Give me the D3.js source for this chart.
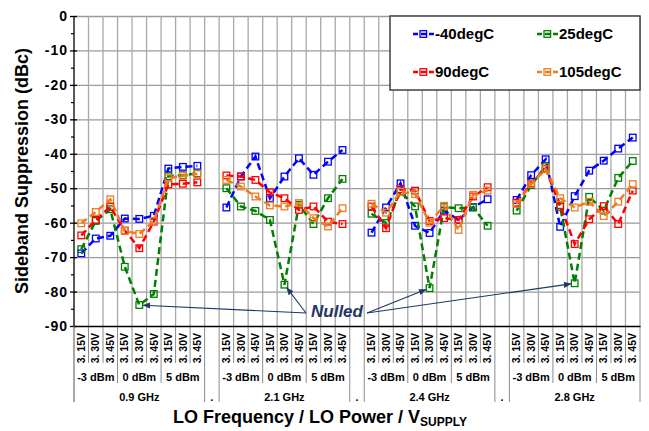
<!DOCTYPE html>
<html>
<head>
<meta charset="utf-8">
<script src="https://cdn.jsdelivr.net/npm/d3@7"></script>
<style>
  body { margin: 0; background: #fff; }
  svg { display: block; font-family: Arial, "Liberation Sans", sans-serif; font-weight: bold; }
</style>
</head>
<body>
<svg id="chart" width="649" height="431"></svg>
<script>
// category levels
var freqs = ["0.9 GHz", "2.1 GHz", "2.4 GHz", "2.8 GHz"];
var powers = ["-3 dBm", "0 dBm", "5 dBm"];
var volts = ["3. 15V", "3. 30V", "3. 45V"];
var gapLabel = ".";

// sideband suppression (dBc), 9 points per frequency
var minus40 = [-68.9, -64.6, -63.8, -58.8, -58.9, -58.0, -44.3, -43.8, -43.5,
               -55.6, -46.6, -40.8, -52.9, -46.6, -41.3, -46.1, -42.3, -38.9,
               -62.9, -55.6, -48.6, -60.9, -63.0, -56.5, -59.2, -55.5, -53.2,
               -53.4, -46.2, -41.6, -61.2, -52.3, -44.9, -42.0, -38.5, -35.3];
var plus25 = [-67.7, -59.5, -56.1, -72.8, -83.9, -80.7, -46.5, -46.2, -45.7,
              -50.0, -55.3, -56.6, -59.2, -78.0, -54.8, -60.4, -52.9, -47.3,
              -57.4, -60.1, -51.0, -55.3, -79.0, -55.5, -55.8, -55.6, -60.9,
              -56.5, -49.1, -43.6, -55.4, -77.6, -52.5, -56.5, -47.0, -42.1];
var plus90 = [-63.7, -59.2, -55.4, -62.3, -67.4, -59.7, -48.9, -48.7, -48.3,
              -46.3, -46.6, -47.6, -51.2, -52.9, -56.3, -55.3, -59.7, -60.4,
              -55.3, -61.6, -50.3, -50.7, -59.5, -58.7, -59.2, -52.4, -49.7,
              -54.2, -48.6, -44.3, -54.9, -66.2, -59.0, -55.2, -60.4, -50.7];
var plus105 = [-60.2, -56.9, -53.2, -62.4, -63.3, -59.5, -47.1, -46.4, -45.9,
               -47.6, -49.5, -52.4, -55.0, -55.3, -54.3, -58.7, -61.1, -55.8,
               -54.5, -57.1, -51.0, -51.7, -60.0, -55.1, -62.1, -51.9, -50.7,
               -54.6, -48.8, -44.5, -52.9, -55.6, -53.9, -58.1, -53.9, -48.8];

var seriesNames = ["-40degC", "25degC", "90degC", "105degC"];
var seriesColors = ["#0000ff", "#008000", "#ff0000", "#f07c20"];
var seriesValues = [minus40, plus25, plus90, plus105];

var yTicks = [0, -10, -20, -30, -40, -50, -60, -70, -80, -90];
var yMinor = [-5, -15, -25, -35, -45, -55, -65, -75, -85];

var W = 649, H = 431;
var margin = {top: 16, right: 9, bottom: 105, left: 74};
var plotR = W - margin.right, plotB = H - margin.bottom;

var svg = d3.select("#chart");

// build category list: 9 per frequency, a gap between frequencies
var cats = [];
freqs.forEach(function(f, fi) {
  powers.forEach(function(p, pi) {
    volts.forEach(function(v, vi) {
      cats.push({key: fi + "_" + pi + "_" + vi, f: fi, p: pi, v: v, gap: false});
    });
  });
  if (fi < freqs.length - 1) cats.push({key: "gap" + fi, gap: true});
});

var x = d3.scaleBand()
  .domain(cats.map(function(d) { return d.key; }))
  .range([margin.left, plotR])
  .padding(0);
var cx = function(k) { return x(k) + x.bandwidth() / 2; };

var y = d3.scaleLinear()
  .domain([-90, 0])
  .range([plotB, margin.top]);

// horizontal grid
svg.append("g")
  .attr("transform", "translate(" + margin.left + ",0)")
  .call(d3.axisLeft(y).tickValues(yTicks.slice(0, -1)).tickSize(-(plotR - margin.left)).tickFormat(""))
  .call(function(g) { g.select(".domain").remove(); })
  .selectAll("line").attr("stroke", "#9a9a9a").attr("stroke-width", 1.3);

// vertical grid at category boundaries
var bounds = d3.range(0, cats.length + 1).map(function(i) { return x.range()[0] + i * x.step(); });
svg.append("g").selectAll("line")
  .data(bounds.slice(1))
  .enter().append("line")
  .attr("x1", function(d) { return d; }).attr("x2", function(d) { return d; })
  .attr("y1", margin.top).attr("y2", plotB)
  .attr("stroke", "#a8a8a8").attr("stroke-width", 1.3);

// separator lines under the axis (3 levels)
svg.append("g").selectAll("line")
  .data(bounds)
  .enter().append("line")
  .attr("x1", function(d) { return d; }).attr("x2", function(d) { return d; })
  .attr("y1", plotB)
  .attr("y2", function(d, i) {
    var pos = i % 10;
    if (pos === 0 || pos === 9) return plotB + 76;
    if (pos === 3 || pos === 6) return plotB + 57;
    return plotB + 37;
  })
  .attr("stroke", "#8c8c8c").attr("stroke-width", 1);

// y axis
var yAxis = svg.append("g")
  .attr("transform", "translate(" + margin.left + ",0)")
  .call(d3.axisLeft(y).tickValues(yTicks).tickSize(4).tickPadding(6).tickFormat(function(d) { return String(d); }));
yAxis.select(".domain").attr("stroke", "#000").attr("stroke-width", 1.3).attr("d", "M0," + margin.top + "V" + plotB);
yAxis.selectAll("line").attr("x2", -4).attr("x1", 3).attr("stroke", "#000").attr("stroke-width", 1.3);
yAxis.selectAll("text").style("font-size", "14px").style("font-weight", "bold").attr("fill", "#000")
  .style("letter-spacing", "1px").attr("x", -6);
yAxis.append("line").attr("x1", 0).attr("x2", 0).attr("y1", plotB).attr("y2", plotB + 76)
  .attr("stroke", "#8c8c8c");

svg.append("g")
  .attr("transform", "translate(" + margin.left + ",0)")
  .call(d3.axisLeft(y).tickValues(yMinor).tickSize(3).tickFormat(""))
  .call(function(g) { g.select(".domain").remove(); })
  .selectAll("line").attr("stroke", "#000").attr("stroke-width", 1.2);

// x axis line + voltage labels
var xAxis = svg.append("g")
  .attr("transform", "translate(0," + plotB + ")")
  .call(d3.axisBottom(x).tickSize(0).tickFormat(function(k) {
    var c = cats.find(function(d) { return d.key === k; });
    return c.gap ? "" : c.v;
  }));
xAxis.select(".domain").attr("stroke", "#000").attr("stroke-width", 1.3);
xAxis.selectAll("text")
  .attr("transform", "rotate(-90)")
  .attr("x", -7).attr("y", 0).attr("dy", "0.35em")
  .style("text-anchor", "end")
  .style("font-size", "10.5px").style("font-weight", "bold").attr("fill", "#000");

// power labels
var powerGroups = [];
freqs.forEach(function(f, fi) {
  powers.forEach(function(p, pi) {
    var keys = volts.map(function(v, vi) { return fi + "_" + pi + "_" + vi; });
    powerGroups.push({label: p, x: (x(keys[0]) + x(keys[2]) + x.bandwidth()) / 2});
  });
});
svg.append("g").selectAll("text")
  .data(powerGroups).enter().append("text")
  .attr("x", function(d) { return d.x; }).attr("y", plotB + 55)
  .attr("text-anchor", "middle").style("font-size", "11px")
  .text(function(d) { return d.label; });

// frequency labels and gap dots
svg.append("g").selectAll("text")
  .data(freqs).enter().append("text")
  .attr("x", function(d, fi) { return (x(fi + "_0_0") + x(fi + "_2_2") + x.bandwidth()) / 2; })
  .attr("y", plotB + 75)
  .attr("text-anchor", "middle").style("font-size", "11px")
  .text(function(d) { return d; });
svg.append("g").selectAll("text")
  .data(cats.filter(function(d) { return d.gap; })).enter().append("text")
  .attr("x", function(d) { return cx(d.key); })
  .attr("y", plotB + 75)
  .attr("text-anchor", "middle").style("font-size", "11px")
  .text(gapLabel);

// series
var line = d3.line()
  .x(function(d) { return cx(d.key); })
  .y(function(d) { return y(d.v); });

seriesValues.forEach(function(vals, si) {
  var g = svg.append("g");
  freqs.forEach(function(f, fi) {
    var pts = d3.range(9).map(function(j) {
      return {key: fi + "_" + Math.floor(j / 3) + "_" + (j % 3), v: vals[fi * 9 + j]};
    });
    g.append("path").datum(pts)
      .attr("d", line)
      .attr("fill", "none")
      .attr("stroke", seriesColors[si])
      .attr("stroke-width", 2.5)
      .attr("stroke-dasharray", "7,4");
    g.selectAll(null).data(pts).enter().append("rect")
      .attr("x", function(d) { return cx(d.key) - 3.3; })
      .attr("y", function(d) { return y(d.v) - 3.3; })
      .attr("width", 6.6).attr("height", 6.6)
      .attr("fill", "none")
      .attr("stroke", seriesColors[si]).attr("stroke-width", 1.3);
  });
});

// legend
var lg = svg.append("g");
lg.append("rect")
  .attr("x", 390).attr("y", margin.top).attr("width", plotR - 390).attr("height", 74)
  .attr("fill", "#fff").attr("stroke", "#404040").attr("stroke-width", 1.5);
seriesNames.forEach(function(name, i) {
  var lx = i % 2 === 0 ? 413 : 537;
  var ly = i < 2 ? 34 : 72;
  var it = lg.append("g").attr("transform", "translate(" + lx + "," + ly + ")");
  it.append("line").attr("x1", 0).attr("x2", 21).attr("y1", 0).attr("y2", 0)
    .attr("stroke", seriesColors[i]).attr("stroke-width", 2.5).attr("stroke-dasharray", "5,3");
  it.append("rect").attr("x", 7).attr("y", -3.3).attr("width", 6.6).attr("height", 6.6)
    .attr("fill", "none").attr("stroke", seriesColors[i]).attr("stroke-width", 1.3);
  it.append("text").attr("x", 22).attr("y", 0).attr("dy", "0.36em")
    .style("font-size", "15px").text(name);
});

// "Nulled" annotation with arrows to the nulled 25degC points
var noteColor = "#1f3864";
svg.append("defs").append("marker")
  .attr("id", "arrow").attr("viewBox", "0 0 10 10").attr("refX", 9).attr("refY", 5)
  .attr("markerWidth", 7).attr("markerHeight", 7).attr("orient", "auto-start-reverse")
  .append("path").attr("d", "M0,1L10,5L0,9z").attr("fill", noteColor);

var nulls = freqs.map(function(f, fi) {
  var vals = plus25.slice(fi * 9, fi * 9 + 9);
  var j = vals.indexOf(d3.min(vals));
  return {key: fi + "_" + Math.floor(j / 3) + "_" + (j % 3), v: vals[j]};
});
var noteX = 337, noteY = 317;
nulls.forEach(function(d, i) {
  var sx = i < 2 ? noteX - 31 : noteX + 30;
  var sy = noteY - 4;
  var px = cx(d.key), py = y(d.v);
  var dx = sx - px, dy = sy - py, len = Math.sqrt(dx * dx + dy * dy);
  svg.append("line")
    .attr("x1", sx).attr("y1", sy)
    .attr("x2", px + dx / len * 4).attr("y2", py + dy / len * 4)
    .attr("stroke", noteColor).attr("stroke-width", 1.1)
    .attr("marker-end", "url(#arrow)");
});
svg.append("text")
  .attr("x", noteX).attr("y", noteY)
  .attr("text-anchor", "middle")
  .style("font-size", "17px").style("font-style", "italic")
  .attr("fill", noteColor)
  .text("Nulled");

// axis titles
svg.append("text")
  .attr("transform", "translate(28," + (margin.top + (plotB - margin.top) / 2) + ") rotate(-90)")
  .attr("text-anchor", "middle")
  .style("font-size", "18px")
  .text("Sideband Suppression (dBc)");

var xt = svg.append("text")
  .attr("x", 320).attr("y", 423)
  .attr("text-anchor", "middle")
  .style("font-size", "18px");
xt.append("tspan").text("LO Frequency / LO Power / V");
xt.append("tspan").attr("dy", 3).style("font-size", "12px").text("SUPPLY");
</script>
</body>
</html>
